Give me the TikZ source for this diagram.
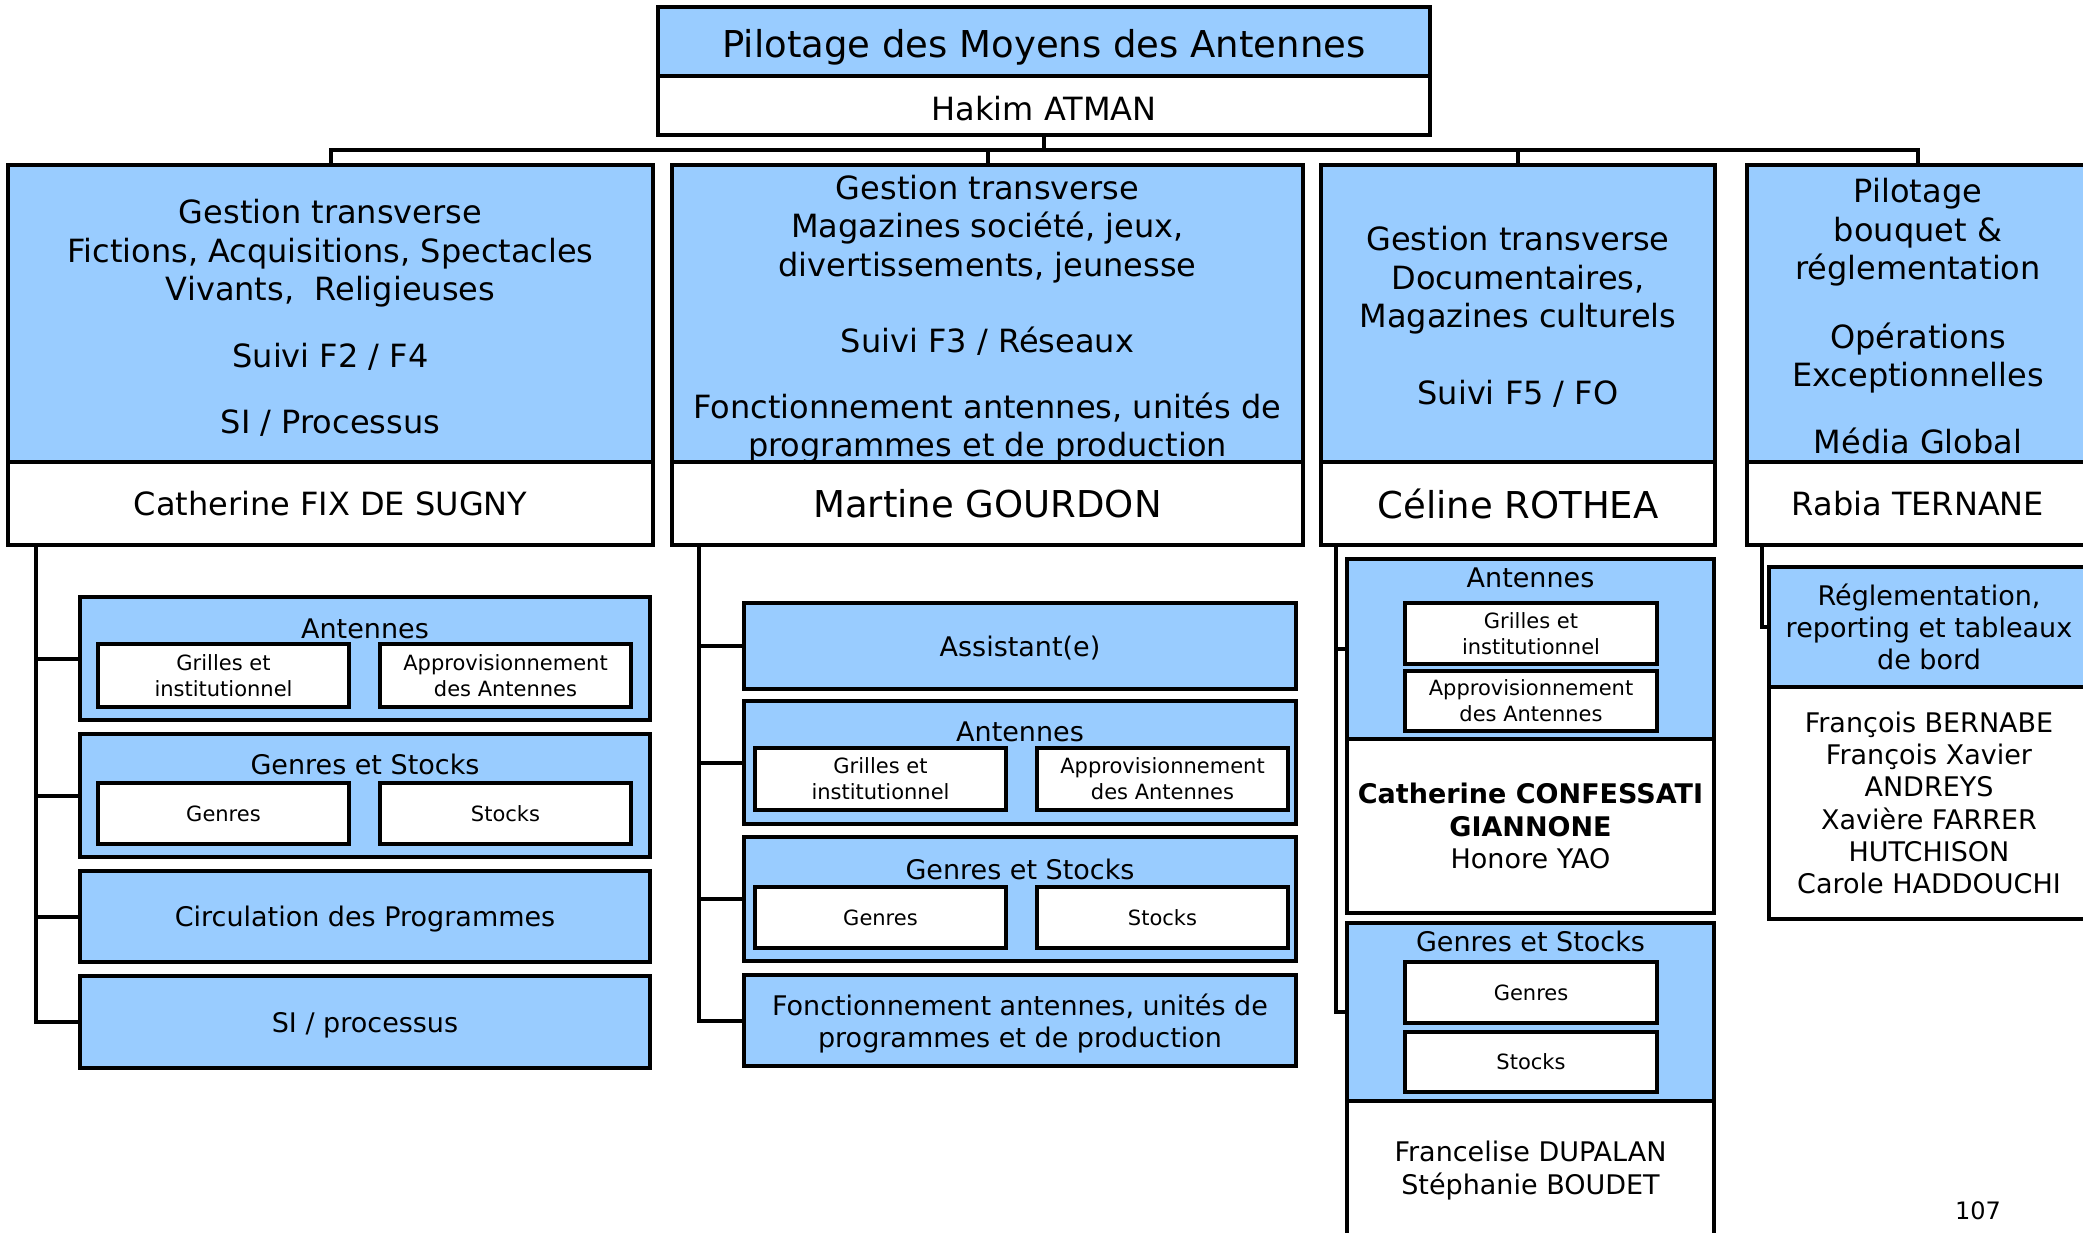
\documentclass[tikz,border=0pt]{standalone}
\usepackage{fontspec}
\setmainfont{DejaVu Sans}
\definecolor{boxblue}{HTML}{99CCFF}
\tikzset{
  base/.style={draw=black, line width=4pt, inner sep=0pt, outer sep=0pt, align=center, text=black},
  bluebox/.style={base, fill=boxblue},
  whitebox/.style={base, fill=white},
  txt/.style={inner sep=0pt, outer sep=0pt, align=center, text=black},
  conn/.style={draw=black, line width=4pt},
  fbig/.style={font=\fontsize{37}{44}\selectfont},
  fmid/.style={font=\fontsize{32}{38.5}\selectfont},
  fsub/.style={font=\fontsize{27}{32.2}\selectfont},
  fsmall/.style={font=\fontsize{21}{26}\selectfont},
  nodepth/.style={text depth=0pt},
}
\newcommand{\rbox}[7]{\node[#1, minimum width={(#4-#2)*1pt}, minimum height={(#5-#3)*1pt}] (#6) at ({(#2+#4)/2},{(#3+#5)/2}) {#7};}
\begin{document}
\begin{tikzpicture}[x=1pt,y=-1pt]
\useasboundingbox (0,0) rectangle (2083,1232);
\clip (0,0) rectangle (2083,1232);
\fill[white] (0,0) rectangle (2083,1232);
\coordinate (busy) at (0,150);

% top
\rbox{bluebox,fbig,text height=31pt,text depth=0pt}{658}{7}{1430}{76}{top}{Pilotage des Moyens des Antennes}
\rbox{whitebox,fmid,text height=29pt,text depth=0pt}{658}{76}{1430}{135}{topn}{Hakim ATMAN}

% level 1
\rbox{bluebox}{8}{165}{653}{462}{b1}{}
\node[txt,fmid] (t1) at (330.5,318) {Gestion transverse\\Fictions, Acquisitions, Spectacles\\Vivants,\ \ Religieuses\\[28pt]Suivi F2 / F4\\[28pt]SI / Processus};
\rbox{whitebox,fmid}{8}{462}{653}{545}{n1}{Catherine FIX DE SUGNY}

\rbox{bluebox}{672}{165}{1303}{462}{b2}{}
\node[txt,fmid] (t2) at (987.5,319) {Gestion transverse\\Magazines société, jeux,\\divertissements, jeunesse\\[38pt]Suivi F3 / Réseaux\\[27pt]Fonctionnement antennes, unités de\\programmes et de production};
\rbox{whitebox,fbig}{672}{462}{1303}{545}{n2}{Martine GOURDON}

\rbox{bluebox}{1321}{165}{1715}{462}{b3}{}
\node[txt,fmid] (t3) at (1518,317) {Gestion transverse\\Documentaires,\\Magazines culturels\\[38pt]Suivi F5 / FO};
\rbox{whitebox,fbig}{1321}{462}{1715}{545}{n3}{Céline ROTHEA}

\rbox{bluebox}{1747}{165}{2089}{462}{b4}{}
\node[txt,fmid] (t4) at (1918,316) {Pilotage\\bouquet \&\\réglementation\\[30pt]Opérations\\Exceptionnelles\\[28pt]Média Global};
\rbox{whitebox,fmid}{1747}{462}{2089}{545}{n4}{Rabia TERNANE}

% bus
\draw[conn] (topn.south) -- (topn.south |- busy);
\draw[conn] (b1.north) -- (b1.north |- busy) -- (b4.north |- busy) -- (b4.north);
\draw[conn] (b2.north) -- (b2.north |- busy);
\draw[conn] (b3.north) -- (b3.north |- busy);

% column 1
\rbox{bluebox}{80}{597}{650}{720}{c1a}{}
\node[txt,fsub] (c1al) at (365,629) {Antennes};
\rbox{whitebox,fsmall}{98}{644}{349}{707}{c1a1}{Grilles et\\institutionnel}
\rbox{whitebox,fsmall}{380}{644}{631}{707}{c1a2}{Approvisionnement\\des Antennes}
\rbox{bluebox}{80}{734}{650}{857}{c1b}{}
\node[txt,fsub] (c1bl) at (365,764) {Genres et Stocks};
\rbox{whitebox,fsmall}{98}{783}{349}{844}{c1b1}{Genres}
\rbox{whitebox,fsmall}{380}{783}{631}{844}{c1b2}{Stocks}
\rbox{bluebox,fsub,nodepth}{80}{871}{650}{962}{c1c}{Circulation des Programmes}
\rbox{bluebox,fsub,nodepth}{80}{976}{650}{1068}{c1d}{SI / processus}

\coordinate (s1) at ([xshift=28pt]n1.south west);
\draw[conn] (s1) |- (c1d.west);
\draw[conn] (s1 |- c1a.west) -- (c1a.west);
\draw[conn] (s1 |- c1b.west) -- (c1b.west);
\draw[conn] (s1 |- c1c.west) -- (c1c.west);

% column 2
\rbox{bluebox,fsub,nodepth}{744}{603}{1296}{689}{c2a}{Assistant(e)}
\rbox{bluebox}{744}{701}{1296}{824}{c2b}{}
\node[txt,fsub] (c2bl) at (1020,732) {Antennes};
\rbox{whitebox,fsmall}{755}{748}{1006}{810}{c2b1}{Grilles et\\institutionnel}
\rbox{whitebox,fsmall}{1037}{748}{1288}{810}{c2b2}{Approvisionnement\\des Antennes}
\rbox{bluebox}{744}{837}{1296}{961}{c2c}{}
\node[txt,fsub] (c2cl) at (1020,869) {Genres et Stocks};
\rbox{whitebox,fsmall}{755}{887}{1006}{948}{c2c1}{Genres}
\rbox{whitebox,fsmall}{1037}{887}{1288}{948}{c2c2}{Stocks}
\rbox{bluebox,fsub,nodepth}{744}{975}{1296}{1066}{c2d}{Fonctionnement antennes, unités de\\programmes et de production}

\coordinate (s2) at ([xshift=27pt]n2.south west);
\draw[conn] (s2) |- (c2d.west);
\draw[conn] (s2 |- c2a.west) -- (c2a.west);
\draw[conn] (s2 |- c2b.west) -- (c2b.west);
\draw[conn] (s2 |- c2c.west) -- (c2c.west);

% column 3
\rbox{bluebox}{1347}{559}{1714}{739}{c3a}{}
\node[txt,fsub] (c3al) at (1530.5,578) {Antennes};
\rbox{whitebox,fsmall}{1405}{603}{1657}{664}{c3a1}{Grilles et\\institutionnel}
\rbox{whitebox,fsmall}{1405}{671}{1657}{731}{c3a2}{Approvisionnement\\des Antennes}
\rbox{whitebox,fsub}{1347}{739}{1714}{913}{c3b}{\textbf{Catherine CONFESSATI}\\\textbf{GIANNONE}\\Honore YAO}
\rbox{bluebox}{1347}{923}{1714}{1101}{c3c}{}
\node[txt,fsub] (c3cl) at (1530.5,941) {Genres et Stocks};
\rbox{whitebox,fsmall}{1405}{962}{1657}{1023}{c3c1}{Genres}
\rbox{whitebox,fsmall}{1405}{1032}{1657}{1092}{c3c2}{Stocks}
\rbox{whitebox,fsub}{1347}{1101}{1714}{1240}{c3d}{Francelise DUPALAN\\Stéphanie BOUDET}

\coordinate (s3) at ([xshift=15pt]n3.south west);
\draw[conn] (s3) |- (c3c.west);
\draw[conn] (s3 |- c3a.west) -- (c3a.west);

% column 4
\rbox{bluebox,fsub}{1769}{567}{2089}{687}{c4a}{Réglementation,\\reporting et tableaux\\de bord}
\rbox{whitebox,fsub}{1769}{687}{2089}{919}{c4b}{François BERNABE\\François Xavier\\ANDREYS\\Xavière FARRER\\HUTCHISON\\Carole HADDOUCHI}

\coordinate (s4) at ([xshift=15pt]n4.south west);
\draw[conn] (s4) |- (c4a.west);

% page number
\node[txt,font=\fontsize{24}{28}\selectfont] (pg) at (1978,1211) {107};
\end{tikzpicture}
\end{document}
